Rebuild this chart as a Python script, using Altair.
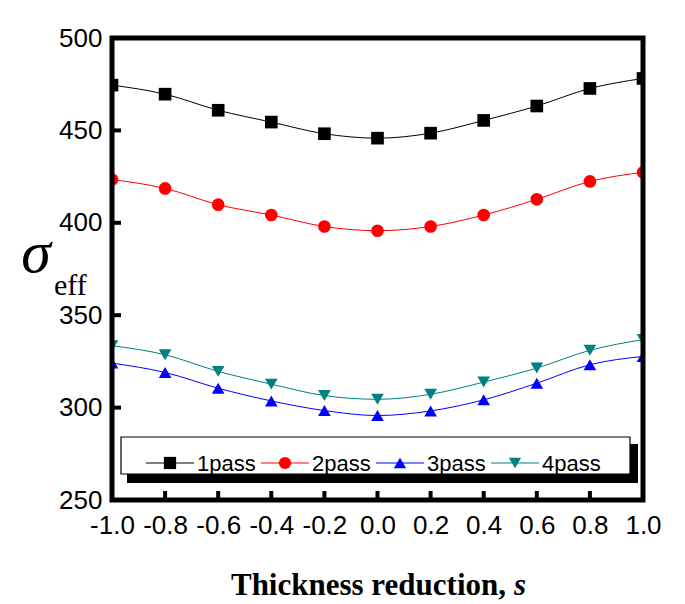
import altair as alt
import pandas as pd

# ---- data ----
thickness = [-1.0, -0.8, -0.6, -0.4, -0.2, 0.0, 0.2, 0.4, 0.6, 0.8, 1.0]
pass1 = [474.5, 469.6, 460.9, 454.5, 448.2, 445.8, 448.5, 455.4, 463.2, 472.7, 478.1]
pass2 = [423.4, 418.6, 409.8, 404.2, 398.0, 395.7, 398.0, 404.2, 412.7, 422.4, 427.3]
pass3 = [324.1, 319.0, 310.5, 303.6, 298.4, 295.7, 298.2, 304.2, 313.2, 323.2, 327.7]
pass4 = [333.5, 328.6, 319.6, 312.7, 306.5, 304.5, 307.2, 313.8, 321.4, 331.0, 336.8]
series_names = ["1pass", "2pass", "3pass", "4pass"]
series_colors = ["#000000", "#ff0000", "#0000ff", "#008080"]
series_shapes = ["square", "circle", "triangle-up", "triangle-down"]
x_tick_values = [-1.0, -0.8, -0.6, -0.4, -0.2, 0.0, 0.2, 0.4, 0.6, 0.8, 1.0]
y_tick_values = [250, 300, 350, 400, 450, 500]
x_inner_ticks = [-0.8, -0.6, -0.4, -0.2, 0.0, 0.2, 0.4, 0.6, 0.8]
y_inner_ticks = [300, 350, 400, 450]

rows = []
for name, vals in zip(series_names, [pass1, pass2, pass3, pass4]):
    for xv, yv in zip(thickness, vals):
        rows.append({"s": xv, "sigma": yv, "series": name})
df = pd.DataFrame(rows)
legend_df = pd.DataFrame({"series": series_names})

W, H = 531, 462
xscale = alt.Scale(domain=[-1, 1], nice=False, zero=False)
yscale = alt.Scale(domain=[250, 500], nice=False, zero=False)
cscale = alt.Scale(domain=series_names, range=series_colors)
sscale = alt.Scale(domain=series_names, range=series_shapes)
legend_x = alt.Scale(type="point", domain=series_names, range=[58, 403], padding=0)

x_axis = alt.Axis(values=x_tick_values, title=None, grid=False, domain=False, ticks=False,
                  labelExpr="(datum.value < 0 ? '-' : '') + format(abs(datum.value), '.1f')",
                  labelFont="Liberation Sans", labelFontSize=26, labelColor="black",
                  labelPadding=12, labelFlush=False, labelOverlap=False)
y_axis = alt.Axis(values=y_tick_values, title=None, grid=False, domain=False, ticks=False,
                  labelFont="Liberation Sans", labelFontSize=26, labelColor="black",
                  labelPadding=10, labelFlush=False, labelOverlap=False)

base = alt.Chart(df)

lines = base.mark_line(interpolate="monotone", strokeWidth=1, clip=True).encode(
    x=alt.X("s:Q", scale=xscale, axis=x_axis),
    y=alt.Y("sigma:Q", scale=yscale, axis=y_axis),
    color=alt.Color("series:N", scale=cscale, legend=None),
)

points = base.mark_point(filled=True, size=160, opacity=1, clip=True).encode(
    x=alt.X("s:Q", scale=xscale, axis=None),
    y=alt.Y("sigma:Q", scale=yscale, axis=y_axis),
    color=alt.Color("series:N", scale=cscale, legend=None),
    shape=alt.Shape("series:N", scale=sscale, legend=None),
)

one = alt.Data(values=[{}])

shadow = alt.Chart(one).mark_rect(color="black").encode(
    x=alt.value(15), x2=alt.value(526), y=alt.value(406), y2=alt.value(445))
box = alt.Chart(one).mark_rect(fill="white", stroke="black", strokeWidth=1.2).encode(
    x=alt.value(9), x2=alt.value(518), y=alt.value(399), y2=alt.value(436))

leg_line = alt.Chart(legend_df).mark_point(shape="M-1,0H1", size=2304, filled=False,
                                           strokeWidth=1, opacity=1).encode(
    x=alt.X("series:N", scale=legend_x, axis=None),
    y=alt.value(425),
    color=alt.Color("series:N", scale=cscale, legend=None),
)
leg_pt = alt.Chart(legend_df).mark_point(filled=True, size=150, opacity=1).encode(
    x=alt.X("series:N", scale=legend_x, axis=None),
    y=alt.value(425),
    color=alt.Color("series:N", scale=cscale, legend=None),
    shape=alt.Shape("series:N", scale=sscale, legend=None),
)
leg_txt = alt.Chart(legend_df).mark_text(align="left", baseline="middle", dx=27,
                                         font="Liberation Sans", fontSize=22,
                                         color="black").encode(
    x=alt.X("series:N", scale=legend_x, axis=None),
    y=alt.value(426),
    text="series:N",
)

xt = alt.Chart(pd.DataFrame({"t": x_inner_ticks})).mark_rule(color="black", strokeWidth=4).encode(
    x=alt.X("t:Q", scale=xscale, axis=None), y=alt.value(H), y2=alt.value(H - 9))
yt = alt.Chart(pd.DataFrame({"t": y_inner_ticks})).mark_rule(color="black", strokeWidth=4).encode(
    y=alt.Y("t:Q", scale=yscale, axis=y_axis), x=alt.value(0), x2=alt.value(9))

frame = alt.Chart(one).mark_rect(filled=False, stroke="black", strokeWidth=5).encode(
    x=alt.value(0), x2=alt.value(W), y=alt.value(0), y2=alt.value(H))

sigma = alt.Chart(one).mark_text(text="σ", font="Liberation Serif", fontStyle="italic",
                                  fontSize=60, align="center", baseline="alphabetic",
                                  color="black").encode(x=alt.value(-76), y=alt.value(234))
eff = alt.Chart(one).mark_text(text="eff", font="Liberation Serif", fontSize=30,
                                align="left", baseline="alphabetic",
                                color="black").encode(x=alt.value(-58), y=alt.value(257))
xtitle = alt.Chart(one).mark_text(text="Thickness reduction,", font="Liberation Serif",
                                   fontWeight="bold", fontSize=31, align="right",
                                   baseline="alphabetic", color="black").encode(
    x=alt.value(394), y=alt.value(557))
xtitle_s = alt.Chart(one).mark_text(text="s", font="Liberation Serif", fontWeight="bold",
                                     fontStyle="italic", fontSize=31, align="left",
                                     baseline="alphabetic", color="black").encode(
    x=alt.value(402), y=alt.value(557))

chart = alt.layer(
    shadow, box, lines, points, leg_line, leg_pt, leg_txt, xt, yt, frame,
    sigma, eff, xtitle, xtitle_s
).resolve_scale(x="independent").properties(
    width=W, height=H,
    padding={"left": 104, "top": 30, "right": 34, "bottom": 104},
    autosize=alt.AutoSizeParams(type="none"),
).configure_view(stroke=None).configure(background="white")

chart.save("out.html", embed_options={"renderer": "svg", "actions": False})
